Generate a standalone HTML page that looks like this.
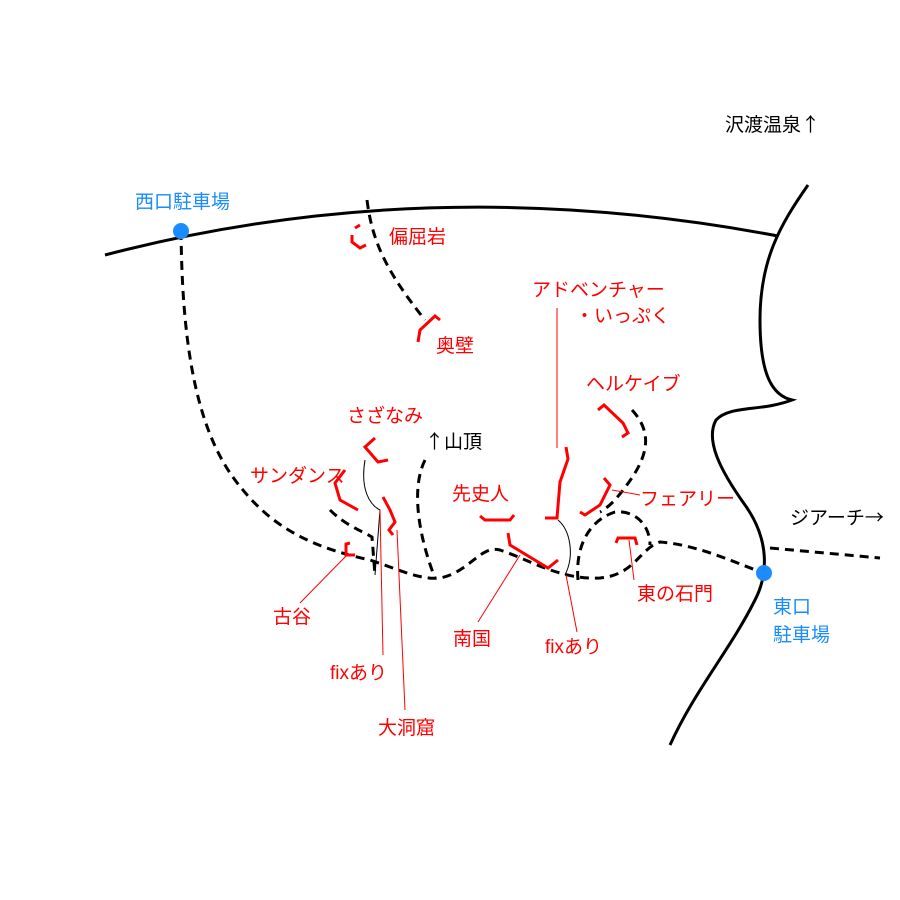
<!DOCTYPE html>
<html><head><meta charset="utf-8"><style>body{margin:0;background:#fff}svg{display:block}text{font-family:"Liberation Sans","Noto Sans CJK JP",sans-serif;font-size:19px}.ar{font-family:"Noto Sans CJK JP",sans-serif}</style></head><body>
<svg width="900" height="900" viewBox="0 0 900 900" xmlns="http://www.w3.org/2000/svg">
<rect width="900" height="900" fill="#fff"/>
<g fill="none" stroke="#000" stroke-width="3">
<path d="M105,255 Q430,170 778,236"/>
<path d="M808,185 C780,225 760,260 760,320 C760,370 770,395 792,400 C760,412 730,405 716,420 C705,440 720,470 745,505 C770,540 768,575 755,600 C730,650 695,690 670,745"/>
</g>
<g fill="none" stroke="#000" stroke-width="3" stroke-dasharray="9,6">
<path d="M181,231 C182,320 190,420 235,480 C265,520 300,545 370,560 C400,570 420,580 440,578 C470,572 480,545 500,550 C530,560 560,580 600,578 C635,575 640,548 660,542 C700,545 740,565 764,573"/>
<path d="M770,548 L880,558"/>
<path d="M367,200 C372,240 385,270 425,320"/>
<path d="M425,460 C410,490 420,540 435,578"/>
<path d="M330,510 C345,525 360,530 372,537 L375,575"/>
<path d="M632,410 C660,440 640,470 615,500 C605,510 600,512 600,512"/>
<path d="M578,580 C575,545 590,520 615,512 C635,510 650,525 650,545"/>
</g>
<g fill="none" stroke="#000" stroke-width="1">
<path d="M365,460 C360,490 370,505 380,510 L375,575"/>
<path d="M558,520 C570,530 575,555 565,575"/>
</g>
<g fill="none" stroke="#f00" stroke-width="3">
<path d="M355,228 L360,225 M352,235 L352,242 L360,248 L366,245"/>
<path d="M418,342 L420,330 L435,316 L440,320"/>
<path d="M375,438 L365,447 L378,462 L388,460"/>
<path d="M345,470 L335,483 L340,500 L358,510"/>
<path d="M383,497 L390,510 L395,522 L389,530 L393,535"/>
<path d="M350,543 L346,544 L346,555 L355,555"/>
<path d="M566,447 L568,459 L560,482 L557,518 L545,518"/>
<path d="M480,516 L485,520 L510,520 L514,515"/>
<path d="M508,533 L510,545 L548,568 L558,560"/>
<path d="M598,410 L604,405 L623,423 L628,433 L622,437"/>
<path d="M604,478 L610,485 L600,505 L585,515 L580,512"/>
<path d="M616,543 L618,538 L635,538 L637,545"/>
</g>
<g stroke="#f00" stroke-width="1">
<line x1="557" y1="448" x2="557" y2="308"/>
<line x1="612" y1="490" x2="640" y2="495"/>
<line x1="629" y1="540" x2="634" y2="580"/>
<line x1="347" y1="555" x2="300" y2="603"/>
<line x1="380" y1="510" x2="383" y2="655"/>
<line x1="397" y1="530" x2="405" y2="710"/>
<line x1="520" y1="555" x2="478" y2="622"/>
<line x1="566" y1="575" x2="577" y2="632"/>
</g>
<circle cx="181" cy="231" r="8" fill="#1a8cff"/>
<circle cx="764" cy="573" r="8" fill="#1a8cff"/>
<g fill="#1a8cff">
<text x="135" y="208">西口駐車場</text>
<text x="773" y="613">東口</text>
<text x="773" y="641">駐車場</text>
</g>
<g fill="#000">
<text x="725" y="131">沢渡温泉<tspan class="ar">↑</tspan></text>
<text x="425" y="448"><tspan class="ar">↑</tspan>山頂</text>
<text x="790" y="524">ジアーチ<tspan class="ar">→</tspan></text>
</g>
<g fill="#f00">
<text x="389" y="243">偏屈岩</text>
<text x="436" y="352">奥壁</text>
<text x="532" y="296">アドベンチャー</text>
<text x="575" y="322">・いっぷく</text>
<text x="586" y="390">ヘルケイブ</text>
<text x="347" y="422">さざなみ</text>
<text x="250" y="482">サンダンス</text>
<text x="452" y="500">先史人</text>
<text x="640" y="505">フェアリー</text>
<text x="637" y="600">東の石門</text>
<text x="273" y="623">古谷</text>
<text x="453" y="645">南国</text>
<text x="545" y="653">fixあり</text>
<text x="330" y="679">fixあり</text>
<text x="378" y="734">大洞窟</text>
</g>
</svg>
</body></html>
